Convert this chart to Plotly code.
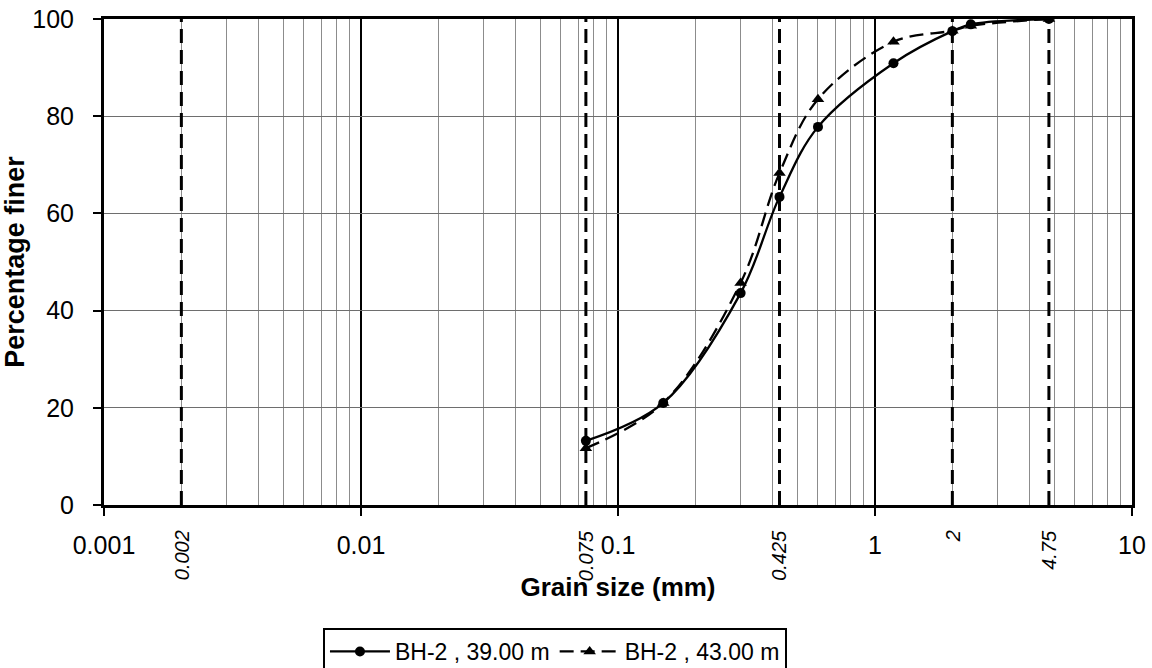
import math
import plotly.graph_objects as go

# Sieve sizes (mm) and percentage passing for each sample
grain_size = [0.075, 0.15, 0.3, 0.425, 0.6, 1.18, 2.0, 2.36, 4.75]
finer_39m = [13.2, 21.0, 43.6, 63.4, 77.8, 90.9, 97.5, 98.9, 100.0]
finer_43m = [11.7, 21.0, 45.7, 68.3, 83.5, 95.3, 97.6, 98.6, 100.0]

# Reference sizes marked with dashed vertical lines
ref_sizes = [0.002, 0.075, 0.425, 2.0, 4.75]
ref_labels = ["0.002", "0.075", "0.425", "2", "4.75"]

x_ticks = [0.001, 0.01, 0.1, 1, 10]
x_tick_text = ["0.001", "0.01", "0.1", "1", "10"]
y_ticks = [0, 20, 40, 60, 80, 100]

FONT = "Liberation Sans, Arial, sans-serif"

fig = go.Figure()

# dashed reference lines, spanning the full height of the plot
for s in ref_sizes:
    fig.add_trace(go.Scatter(
        x=[s, s], y=[0, 100], mode="lines",
        line=dict(color="black", width=3, dash="14px,7px"),
        showlegend=False, hoverinfo="skip",
    ))

fig.add_trace(go.Scatter(
    x=grain_size, y=finer_39m, mode="lines+markers",
    name="BH-2 , 39.00 m",
    line=dict(color="black", width=2.3, shape="spline", smoothing=1),
    marker=dict(symbol="circle", size=10, color="black"),
))
fig.add_trace(go.Scatter(
    x=grain_size, y=finer_43m, mode="lines+markers",
    name="BH-2 , 43.00 m",
    line=dict(color="black", width=2.3, dash="14px,7px", shape="spline", smoothing=1),
    marker=dict(symbol="triangle-up", size=11, color="black"),
))

# rotated labels under the axis for each reference size
for s, lab in zip(ref_sizes, ref_labels):
    fig.add_annotation(
        x=math.log10(s), xref="x", y=-0.047, yref="paper",
        text=lab, textangle=-90, showarrow=False,
        xanchor="center", yanchor="top",
        font=dict(family=FONT, size=20, color="black", style="italic"),
    )

fig.update_layout(
    width=1152, height=668,
    margin=dict(l=104, r=20, t=19, b=163),
    paper_bgcolor="white", plot_bgcolor="white",
    font=dict(family=FONT, color="black"),
    showlegend=True,
    legend=dict(
        orientation="h", xref="paper", yref="container",
        x=0.213, y=1 - 628 / 668, xanchor="left", yanchor="top",
        bordercolor="black", borderwidth=2, bgcolor="white",
        font=dict(family=FONT, size=23, color="black"),
        itemwidth=60,
    ),
)

fig.update_xaxes(
    type="log", range=[-3, 1],
    tickvals=x_ticks, ticktext=x_tick_text,
    tickfont=dict(family=FONT, size=25, color="black"),
    ticks="outside", ticklen=8, tickwidth=2, tickcolor="black",
    ticklabelstandoff=8,
    showgrid=True, gridcolor="black", gridwidth=2,
    minor=dict(dtick="D1", showgrid=True, gridcolor="#8c8c8c", gridwidth=1, ticks=""),
    showline=True, linecolor="black", linewidth=3, mirror=True,
    zeroline=False, automargin=False,
    title=dict(text="<b>Grain size (mm)</b>", standoff=20,
               font=dict(family=FONT, size=26, color="black")),
)
fig.update_yaxes(
    range=[0, 100], tickvals=y_ticks,
    tickfont=dict(family=FONT, size=25, color="black"),
    ticks="outside", ticklen=8, tickwidth=2, tickcolor="black",
    ticklabelstandoff=14,
    showgrid=True, gridcolor="#6e6e6e", gridwidth=1,
    showline=True, linecolor="black", linewidth=3, mirror=True,
    zeroline=False, automargin=False,
    title=dict(text="<b>Percentage finer</b>", standoff=0,
               font=dict(family=FONT, size=27, color="black")),
)

fig.write_html("out.html")
